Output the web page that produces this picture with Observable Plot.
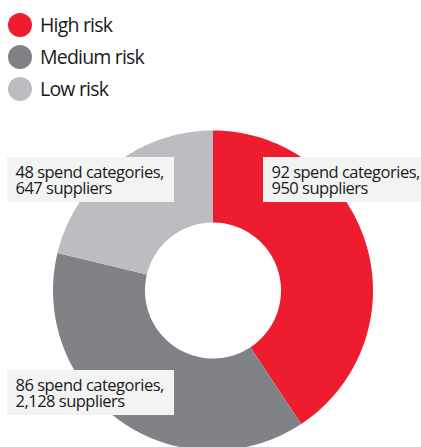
<!DOCTYPE html>
<html>
<head>
<meta charset="utf-8">
<script src="https://cdn.jsdelivr.net/npm/d3@7"></script>
<script src="https://cdn.jsdelivr.net/npm/@observablehq/plot@0.6"></script>
<style>
  html, body { margin: 0; padding: 0; background: #fff; }
  body { width: 421px; height: 447px; overflow: hidden; font-family: "Open Sans", sans-serif; color: #1a1a1a; }
  #legend { height: 110px; position: relative; }
  .item { position: absolute; left: 8px; height: 24px; display: flex; align-items: center; }
  .swatch { width: 24px; height: 24px; border-radius: 50%; margin-right: 8px; }
  .lbl { font-size: 19.5px; letter-spacing: -0.8px; line-height: 24px; }
  #chart svg { display: block; }
  #chart text { letter-spacing: -0.5px; }
</style>
</head>
<body>
<div id="legend"></div>
<div id="chart"></div>
<script>
// ---- data ----
const categories = ["High risk", "Medium risk", "Low risk"];
const spendCategories = [92, 86, 48];
const suppliers = [950, 2128, 647];
const colors = ["#ED1C2E", "#818285", "#BCBDC0"];

// ---- layout (not data) ----
const outerR = 160, innerR = 68;
const labelLayout = {
  "High risk":   {x1: 50.5,   x2: 210,   y1: 133, y2: 88,   tx: 58.5,   ty: 123.5},
  "Medium risk": {x1: -205.5, x2: -38.5, y1: -80, y2: -125, tx: -197.5, ty: -89.5},
  "Low risk":    {x1: -205.5, x2: -38.5, y1: 133, y2: 88,   tx: -197.5, ty: 123.5}
};

// legend
const legend = document.getElementById("legend");
categories.forEach((c, i) => {
  const d = document.createElement("div");
  d.className = "item";
  d.style.top = (13 + i * 32) + "px";
  d.innerHTML = `<span class="swatch" style="background:${colors[i]}"></span><span class="lbl">${c}</span>`;
  legend.appendChild(d);
});

// slices from pie layout
const pie = d3.pie().sort(null).value((d) => d)(spendCategories);
const ring = [];
pie.forEach((p, i) => {
  const n = 80;
  for (let k = 0; k <= n; ++k) {
    const a = p.startAngle + (p.endAngle - p.startAngle) * k / n;
    ring.push({cat: categories[i], x: outerR * Math.sin(a), y: outerR * Math.cos(a)});
  }
  for (let k = n; k >= 0; --k) {
    const a = p.startAngle + (p.endAngle - p.startAngle) * k / n;
    ring.push({cat: categories[i], x: innerR * Math.sin(a), y: innerR * Math.cos(a)});
  }
});

const labels = categories.map((c, i) => ({
  cat: c,
  text: `${spendCategories[i]} spend categories,\n${d3.format(",")(suppliers[i])} suppliers`,
  ...labelLayout[c]
}));

const chart = Plot.plot({
  width: 421,
  height: 350,
  margin: 0,
  x: {domain: [-212.5, 208.5], range: [0, 421], axis: null},
  y: {domain: [-170, 180], range: [350, 0], axis: null},
  color: {domain: categories, range: colors},
  style: {fontFamily: "Open Sans", background: "transparent"},
  marks: [
    Plot.line(ring, {x: "x", y: "y", z: "cat", fill: "cat", stroke: "none", curve: "linear-closed"}),
    Plot.rect(labels, {x1: "x1", x2: "x2", y1: "y1", y2: "y2", fill: "#F2F3F3"}),
    Plot.text(labels, {
      x: "tx", y: "ty", text: "text", textAnchor: "start", lineAnchor: "top",
      lineHeight: 0.97, fontSize: 16.5, fill: "#1a1a1a"
    })
  ]
});
document.getElementById("chart").appendChild(chart);
</script>
</body>
</html>
